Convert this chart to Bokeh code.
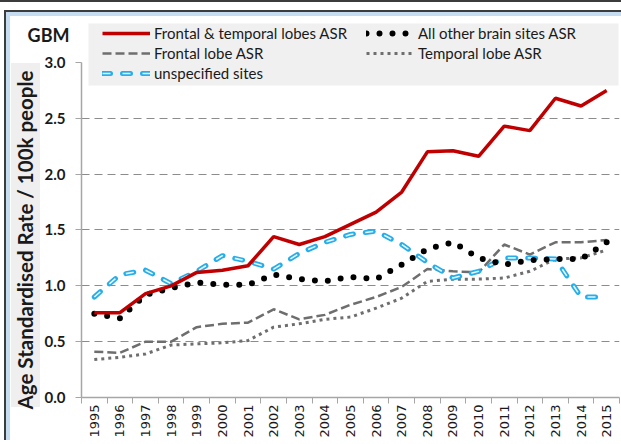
import math
from bokeh.plotting import figure
from bokeh.models import (Range1d, FixedTicker, Legend, LegendItem, LinearAxis,
                          BoxAnnotation, PrintfTickFormatter, ColumnDataSource,
                          CustomJSTickFormatter)
from bokeh.embed import file_html
from bokeh.resources import INLINE

# ---------------- data ----------------
years = list(range(1995, 2016))
frontal_temporal = [0.76, 0.76, 0.93, 1.00, 1.12, 1.14, 1.18, 1.44, 1.37, 1.44, 1.55,
                    1.66, 1.84, 2.20, 2.21, 2.16, 2.43, 2.39, 2.68, 2.61, 2.75]
other_sites = [0.75, 0.71, 0.92, 0.98, 1.03, 1.01, 1.01, 1.10, 1.06, 1.04, 1.08,
               1.06, 1.19, 1.33, 1.39, 1.25, 1.19, 1.23, 1.24, 1.24, 1.39]
frontal_lobe = [0.41, 0.40, 0.50, 0.50, 0.63, 0.66, 0.67, 0.79, 0.70, 0.74, 0.83,
                0.90, 0.99, 1.15, 1.13, 1.12, 1.37, 1.28, 1.39, 1.39, 1.41]
temporal_lobe = [0.34, 0.36, 0.39, 0.47, 0.48, 0.49, 0.51, 0.63, 0.66, 0.70, 0.72,
                 0.80, 0.89, 1.04, 1.06, 1.06, 1.07, 1.13, 1.24, 1.25, 1.32]
unspecified = [0.90, 1.10, 1.14, 1.02, 1.13, 1.27, 1.22, 1.15, 1.29, 1.39, 1.46,
               1.49, 1.37, 1.21, 1.07, 1.13, 1.25, 1.25, 1.24, 0.90, 0.90]
y_ticks = [0.0, 0.5, 1.0, 1.5, 2.0, 2.5, 3.0]
y_title = "Age Standardised Rate / 100k  people"
chart_title = "GBM"

source = ColumnDataSource(dict(year=years, ft=frontal_temporal, other=other_sites,
                               fl=frontal_lobe, tl=temporal_lobe, un=unspecified))

W, H = 621, 440
FRAME_TOP_VALUE = 3.555   # frame extends above 3.0 to hold the legend
p = figure(width=W, height=H, output_backend="svg", toolbar_location=None,
           x_range=Range1d(years[0] - 0.5, years[-1] + 0.5),
           y_range=Range1d(y_ticks[0], FRAME_TOP_VALUE),
           y_axis_location=None,
           min_border_left=81, min_border_right=2, min_border_top=0,
           min_border_bottom=43)
p.outline_line_color = None
p.background_fill_alpha = 0
p.border_fill_alpha = 0

# chart-area decoration painted behind the transparent canvas
layers = [
    ("#efefef", "11px 63px", "29px 344px"),     # y-title background
    ("#c6dcf1", "6px 12px", "4px 100%"),        # left light-blue band
    ("#3c3c3c", "4px 10px", "2px 100%"),        # left dark line
    ("#c6dcf1", "4px 12px", "100% 4px"),        # top light-blue band
    ("#3c3c3c", "4px 10px", "100% 2px"),        # top dark line
    ("#3c3c3c", "0px 0px", "100% 2px"),         # outer top line
]
p.styles = {
    "background-color": "white",
    "background-image": ", ".join(f"linear-gradient({c}, {c})" for c, _, _ in layers),
    "background-position": ", ".join(pos for _, pos, _ in layers),
    "background-size": ", ".join(sz for _, _, sz in layers),
    "background-repeat": "no-repeat",
}

# legend background
p.add_layout(BoxAnnotation(left=88, right=618, top=23, bottom=85,
                           left_units="canvas", right_units="canvas",
                           top_units="canvas", bottom_units="canvas",
                           fill_color="#f0f0f0", fill_alpha=1, line_color=None,
                           level="underlay"))

# ---------------- series ----------------
r_fl = p.line("year", "fl", source=source, line_color="#6e6e6e", line_width=2.5,
              line_dash="9 4")
r_tl = p.line("year", "tl", source=source, line_color="#6e6e6e", line_width=3,
              line_dash="3 4")
r_u1 = p.line("year", "un", source=source, line_color="#27aee8", line_width=5,
              line_dash="8 12", line_cap="round", line_join="round")
r_u2 = p.line("year", "un", source=source, line_color="#e6f6fd", line_width=1.6,
              line_dash="8 12")
r_other = p.line("year", "other", source=source, line_color="black", line_width=6,
                 line_dash="0 13", line_cap="round")
r_ft = p.line("year", "ft", source=source, line_color="#c00000", line_width=3.5)

# ---------------- axes ----------------
p.xgrid.visible = False
p.ygrid.ticker = FixedTicker(ticks=y_ticks[1:-1])
p.ygrid.grid_line_color = "#8c8c8c"
p.ygrid.grid_line_dash = "8 5"
p.ygrid.grid_line_width = 1.2

# main value axis
yax = LinearAxis(bounds=(y_ticks[0], y_ticks[-1]))
yax.ticker = FixedTicker(ticks=y_ticks)
yax.formatter = PrintfTickFormatter(format="%.1f")
yax.major_label_text_font = "Lato"
yax.major_label_text_font_style = "bold"
yax.major_label_text_font_size = "15px"
yax.major_label_text_color = "#1a1a1a"
yax.major_tick_out = 6
yax.major_tick_in = 0
yax.minor_tick_out = 0
yax.minor_tick_in = 0
yax.major_tick_line_color = "#a6a6a6"
yax.axis_line_color = "#a6a6a6"
yax.axis_line_width = 1.5
yax.major_label_standoff = 10
p.add_layout(yax, "left")

def text_axis(value, label, size, orientation, standoff):
    ax = LinearAxis(ticker=FixedTicker(ticks=[value]),
                    formatter=CustomJSTickFormatter(args=dict(label=label),
                                                    code="return label;"))
    ax.axis_line_color = None
    ax.major_tick_line_color = None
    ax.minor_tick_line_color = None
    ax.major_tick_out = 0
    ax.major_tick_in = 0
    ax.minor_tick_out = 0
    ax.minor_tick_in = 0
    ax.major_label_orientation = orientation
    ax.major_label_text_font = "Lato"
    ax.major_label_text_font_style = "bold"
    ax.major_label_text_font_size = size
    ax.major_label_text_color = "#1a1a1a"
    ax.major_label_standoff = standoff
    return ax

# rotated y-axis title (centred where the original title sits)
title_value = 1.433
p.add_layout(text_axis(title_value, y_title, "20.5px", "parallel", 4), "left")
# "GBM" heading at the top left
gbm_value = 3.242
p.add_layout(text_axis(gbm_value, chart_title, "18px", "horizontal", -59), "left")

xax = p.xaxis[0]
xax.ticker = FixedTicker(ticks=years, minor_ticks=[y - 0.5 for y in years] + [years[-1] + 0.5])
xax.formatter = PrintfTickFormatter(format="%d")
xax.major_label_orientation = math.pi / 2
xax.major_label_text_font = "DejaVu Sans"
xax.major_label_text_font_size = "13px"
xax.major_label_text_color = "#1a1a1a"
xax.major_tick_out = 0
xax.major_tick_in = 0
xax.minor_tick_out = 6
xax.minor_tick_in = 0
xax.minor_tick_line_color = "#a6a6a6"
xax.axis_line_color = "#a6a6a6"
xax.axis_line_width = 1.5
xax.major_label_standoff = 1

# ---------------- legends ----------------
def make_legend(items, loc):
    return Legend(items=items, location=loc, orientation="vertical",
                  background_fill_alpha=0, border_line_color=None,
                  padding=0, margin=0, spacing=0, glyph_width=48, glyph_height=20,
                  label_height=20, label_standoff=4,
                  label_text_font="Lato", label_text_font_size="15px",
                  label_text_color="#1a1a1a")

leg_a = make_legend([
    LegendItem(label="Frontal & temporal lobes ASR", renderers=[r_ft]),
    LegendItem(label="Frontal lobe ASR", renderers=[r_fl]),
    LegendItem(label="unspecified sites", renderers=[r_u1, r_u2]),
], (21, 314))
leg_b = make_legend([
    LegendItem(label="All other brain sites ASR", renderers=[r_other]),
    LegendItem(label="Temporal lobe ASR", renderers=[r_tl]),
], (285, 334))
p.add_layout(leg_a, "center")
p.add_layout(leg_b, "center")

open("out.html", "w").write(file_html(p, INLINE))
